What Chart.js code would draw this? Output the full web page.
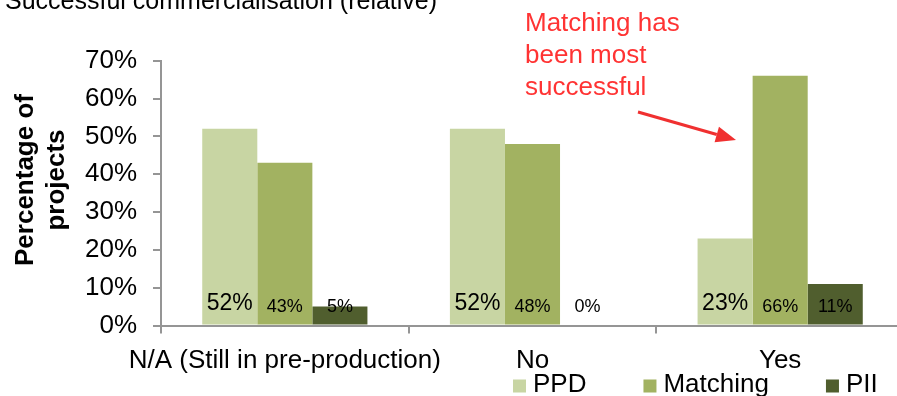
<!DOCTYPE html>
<html>
<head>
<meta charset="utf-8">
<script src="https://cdn.jsdelivr.net/npm/chart.js@4/dist/chart.umd.min.js"></script>
<style>
  html, body { margin:0; padding:0; background:#fff; overflow:hidden; }
</style>
</head>
<body>
<canvas id="chart" width="904" height="396"></canvas>
<script>
// data
const categories = ['N/A (Still in pre-production)', 'No', 'Yes'];
const seriesNames = ['PPD', 'Matching', 'PII'];
const ppdValues = [52, 52, 23];
const matchingValues = [43, 48, 66];
const piiValues = [5, 0, 11];
const yTickValues = [0, 10, 20, 30, 40, 50, 60, 70];

const captionText = 'Successful commercialisation (relative)';
const yTitleLines = ['Percentage of', 'projects'];
const noteLines = ['Matching has', 'been most', 'successful'];

const FONT = "'Liberation Sans', Arial, sans-serif";
Chart.defaults.font.family = FONT;
Chart.defaults.color = '#000';

const axisGrey = '#959595';

const data = {
  labels: categories,
  datasets: [
    { label: seriesNames[0], data: ppdValues, backgroundColor: '#c8d5a3' },
    { label: seriesNames[1], data: matchingValues, backgroundColor: '#a2b261' },
    { label: seriesNames[2], data: piiValues, backgroundColor: '#505e2e' }
  ]
};

// value labels sitting near the base of each bar
const barLabels = {
  id: 'barLabels',
  afterDatasetsDraw(chart) {
    const { ctx } = chart;
    const base = chart.scales.y.getPixelForValue(0);
    ctx.save();
    ctx.fillStyle = '#000';
    ctx.textAlign = 'center';
    ctx.textBaseline = 'alphabetic';
    chart.data.datasets.forEach((ds, i) => {
      const meta = chart.getDatasetMeta(i);
      ctx.font = (i === 0 ? '23px ' : '18px ') + FONT;
      const off = i === 0 ? 15.5 : 14;
      meta.data.forEach((bar, j) => {
        ctx.fillText(ds.data[j] + '%', bar.x, base - off);
      });
    });
    ctx.restore();
  }
};

// caption, y title, legend and the red note with arrow
const extras = {
  id: 'extras',
  afterDraw(chart) {
    const { ctx } = chart;
    ctx.save();

    // cut-off caption at the very top
    ctx.fillStyle = '#000';
    ctx.font = '25px ' + FONT;
    ctx.textAlign = 'left';
    ctx.textBaseline = 'alphabetic';
    ctx.fillText(captionText, 5, 9);

    // y axis title, two lines, rotated
    ctx.save();
    ctx.translate(0, 180);
    ctx.rotate(-Math.PI / 2);
    ctx.font = 'bold 26px ' + FONT;
    ctx.textAlign = 'center';
    ctx.fillText(yTitleLines[0], 0, 33);
    ctx.fillText(yTitleLines[1], 0, 64);
    ctx.restore();

    // legend
    ctx.font = '26px ' + FONT;
    let x = 513;
    chart.data.datasets.forEach(ds => {
      ctx.fillStyle = ds.backgroundColor;
      ctx.fillRect(x, 379.5, 13, 13);
      ctx.fillStyle = '#000';
      ctx.fillText(ds.label, x + 20, 392);
      x += 20 + ctx.measureText(ds.label).width + 57;
    });

    // red note
    ctx.fillStyle = '#ff3333';
    ctx.font = '26px ' + FONT;
    noteLines.forEach((t, i) => ctx.fillText(t, 525, 31 + i * 32));

    // arrow
    ctx.strokeStyle = '#f03030';
    ctx.fillStyle = '#f03030';
    ctx.lineWidth = 3;
    const x0 = 638, y0 = 112, x1 = 736, y1 = 140;
    const a = Math.atan2(y1 - y0, x1 - x0);
    const hl = 20, hw = 8;
    const bx = x1 - hl * Math.cos(a), by = y1 - hl * Math.sin(a);
    ctx.beginPath();
    ctx.moveTo(x0, y0);
    ctx.lineTo(bx, by);
    ctx.stroke();
    ctx.beginPath();
    ctx.moveTo(x1, y1);
    ctx.lineTo(bx + hw * Math.sin(a), by - hw * Math.cos(a));
    ctx.lineTo(bx - hw * Math.sin(a), by + hw * Math.cos(a));
    ctx.closePath();
    ctx.fill();

    ctx.restore();
  }
};

const config = {
  type: 'bar',
  data,
  options: {
    responsive: false,
    animation: false,
    layout: { padding: { top: 60.7, left: 0, right: 0, bottom: 0 } },
    datasets: {
      bar: { categoryPercentage: 0.667, barPercentage: 1.0 }
    },
    plugins: {
      legend: { display: false },
      tooltip: { enabled: false }
    },
    scales: {
      x: {
        grid: { drawOnChartArea: false, tickLength: 8, color: axisGrey, lineWidth: 2, offset: true },
        border: { color: axisGrey, width: 2 },
        ticks: { color: '#000', font: { size: 26 }, padding: 12, maxRotation: 0, autoSkip: false },
        afterFit: s => { s.height = 70.5; }
      },
      y: {
        min: 0,
        max: 70,
        grid: { drawOnChartArea: false, tickLength: 8, color: axisGrey, lineWidth: 2 },
        border: { color: axisGrey, width: 2 },
        ticks: { color: '#000', font: { size: 26 }, padding: 16, callback: v => v + '%' },
        afterBuildTicks: s => { s.ticks = yTickValues.map(v => ({ value: v })); },
        afterFit: s => { s.width = 161; }
      }
    }
  },
  plugins: [barLabels, extras]
};

const chart = new Chart(document.getElementById('chart'), config);
</script>
</body>
</html>
